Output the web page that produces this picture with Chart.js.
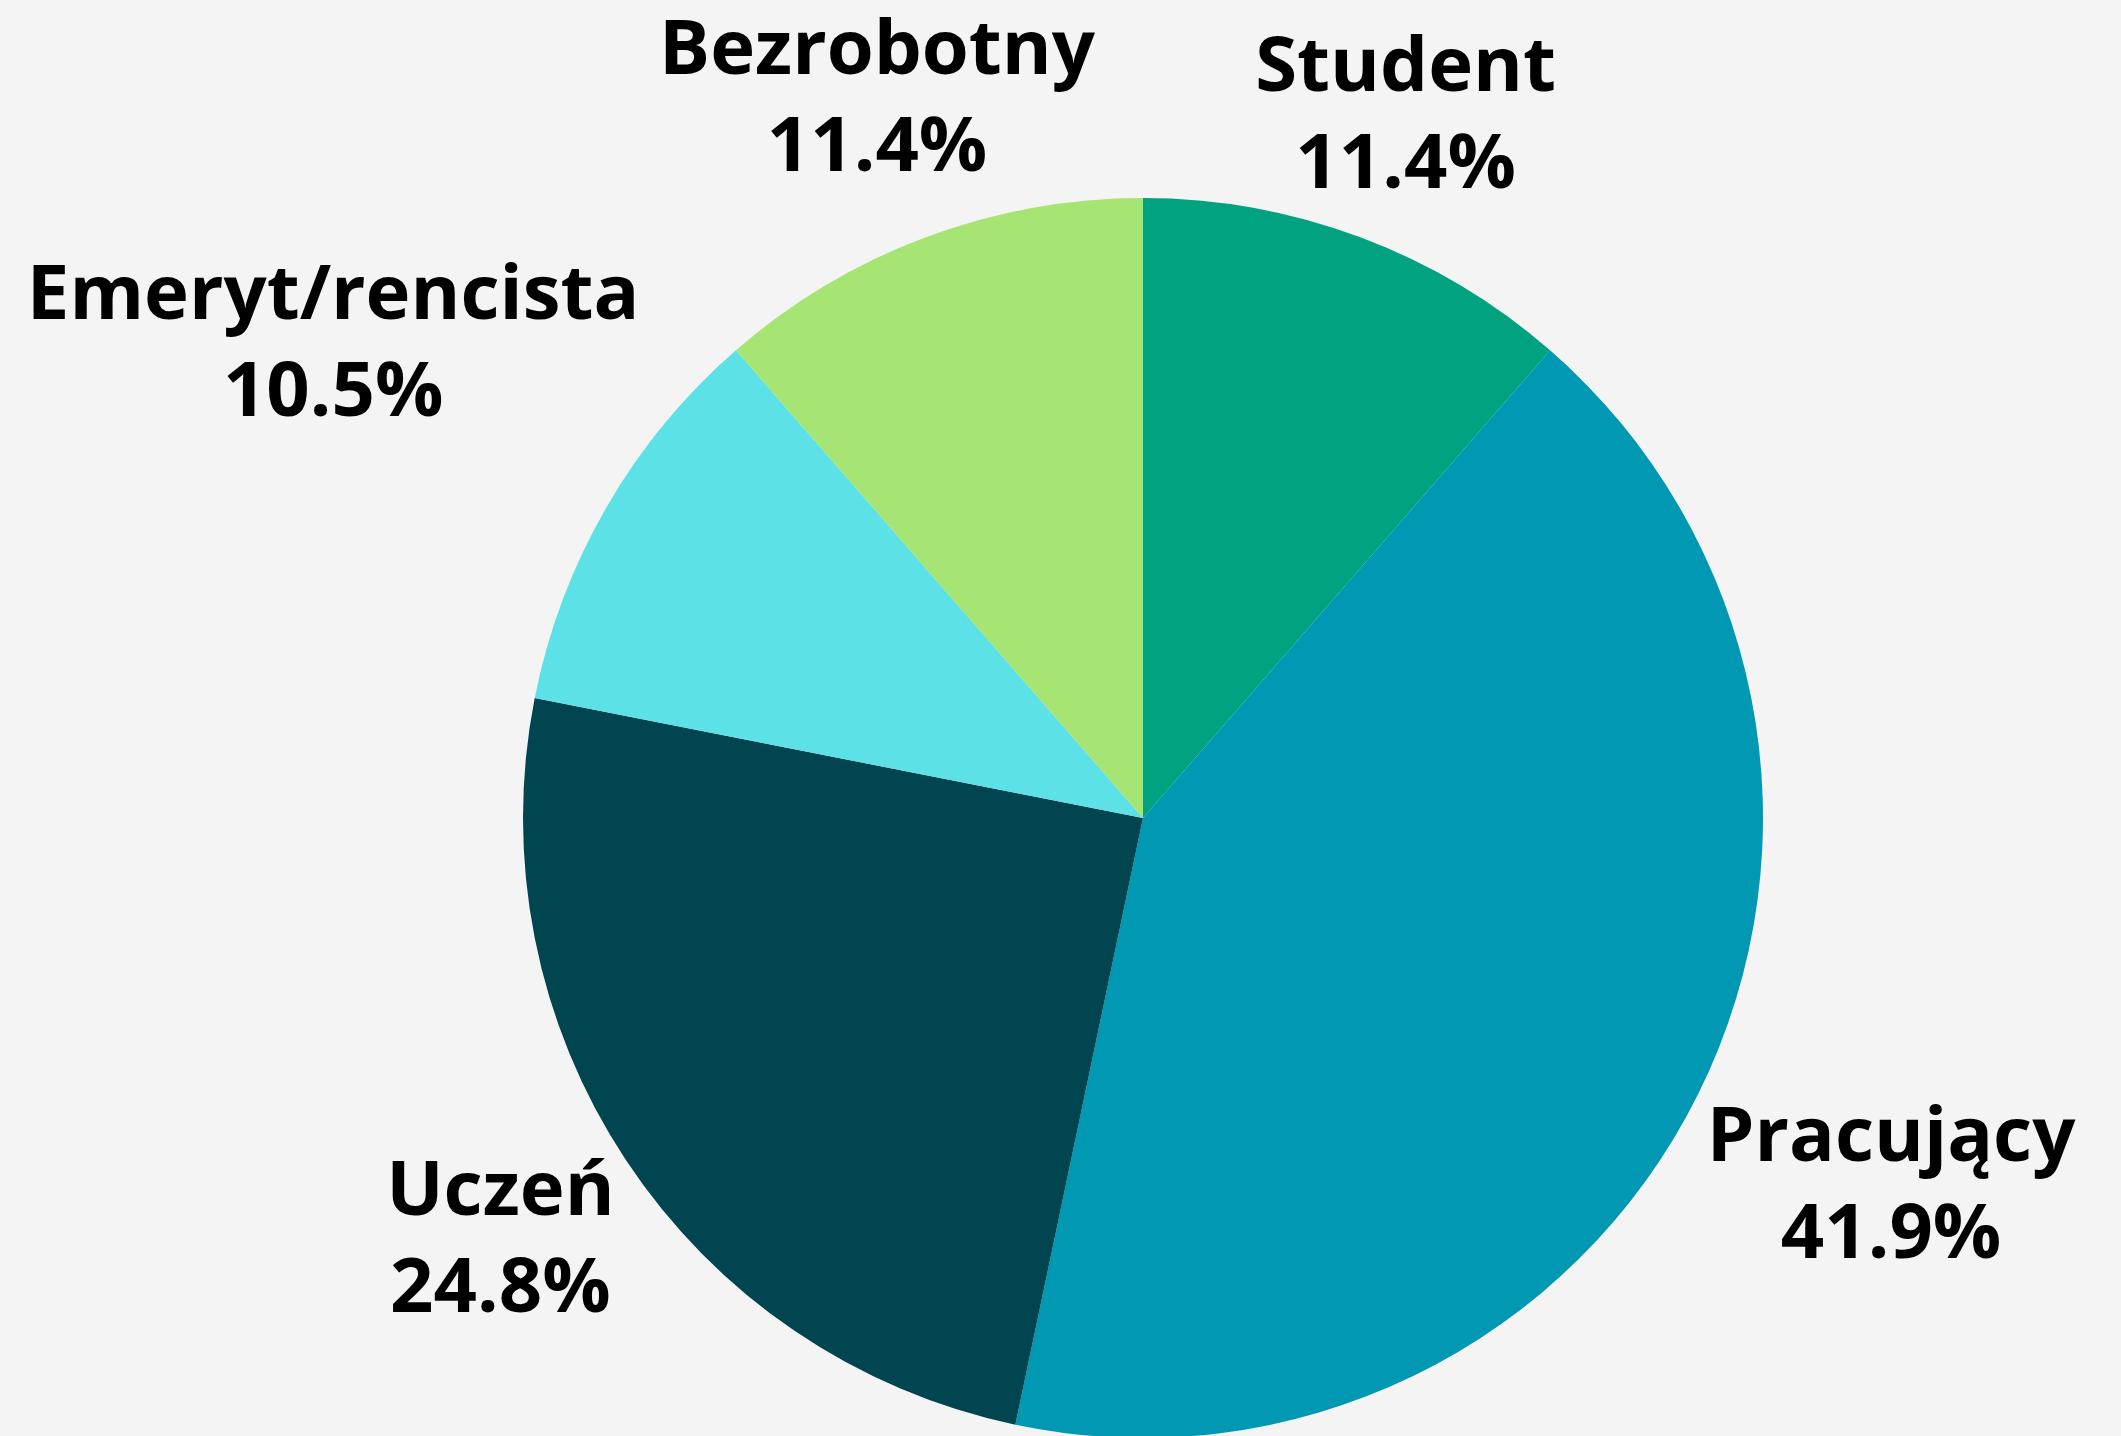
<!DOCTYPE html>
<html>
<head>
<meta charset="utf-8">
<script src="https://cdn.jsdelivr.net/npm/chart.js@4"></script>
<style>
  html, body { margin: 0; padding: 0; background: #F4F4F4; overflow: hidden; }
  canvas { display: block; }
</style>
</head>
<body>
<canvas id="c" width="2121" height="1436"></canvas>
<script>
const categories = ["Student", "Pracujący", "Uczeń", "Emeryt/rencista", "Bezrobotny"];
const values = [11.4, 41.9, 24.8, 10.5, 11.4];
const colors = ["#00A27F", "#0098B3", "#004550", "#5CE1E6", "#A6E474"];
// label distance from centre, as a multiple of the pie radius
const labelDist = [1.214, 1.342, 1.237, 1.516, 1.241];
// small angular nudge of each label (degrees)
const labelAngleShift = [-0.1, -0.5, 0.4, 0.44, 0.3];

const bgPlugin = {
  id: 'bg',
  beforeDraw(chart) {
    const ctx = chart.ctx;
    ctx.save();
    ctx.fillStyle = '#F4F4F4';
    ctx.fillRect(0, 0, chart.width, chart.height);
    ctx.restore();
  }
};

const labelPlugin = {
  id: 'outLabels',
  afterDatasetsDraw(chart) {
    const ctx = chart.ctx;
    const meta = chart.getDatasetMeta(0);
    ctx.save();
    ctx.font = 'bold 76px "Open Sans"';
    ctx.fillStyle = '#000000';
    ctx.textAlign = 'center';
    ctx.textBaseline = 'alphabetic';
    meta.data.forEach((arc, i) => {
      const p = arc.getProps(['x', 'y', 'startAngle', 'endAngle', 'outerRadius'], true);
      const mid = (p.startAngle + p.endAngle) / 2 + labelAngleShift[i] * Math.PI / 180;
      const d = p.outerRadius * labelDist[i];
      const cx = p.x + Math.cos(mid) * d;
      const cy = p.y + Math.sin(mid) * d;
      ctx.fillText(categories[i], cx, cy - 21.5);
      ctx.fillText(values[i].toFixed(1) + '%', cx, cy + 75.5);
    });
    ctx.restore();
  }
};

function build() {
  new Chart(document.getElementById('c'), {
    type: 'pie',
    data: {
      labels: categories,
      datasets: [{
        data: values,
        backgroundColor: colors,
        borderWidth: 0,
        radius: 620
      }]
    },
    options: {
      responsive: false,
      animation: false,
      events: [],
      layout: { padding: { left: 165, top: 200, right: 0, bottom: 0 } },
      plugins: {
        legend: { display: false },
        tooltip: { enabled: false }
      }
    },
    plugins: [bgPlugin, labelPlugin]
  });
}

if (document.fonts && document.fonts.load) {
  document.fonts.load('bold 76px "Open Sans"').then(build, build);
} else {
  build();
}
</script>
</body>
</html>
